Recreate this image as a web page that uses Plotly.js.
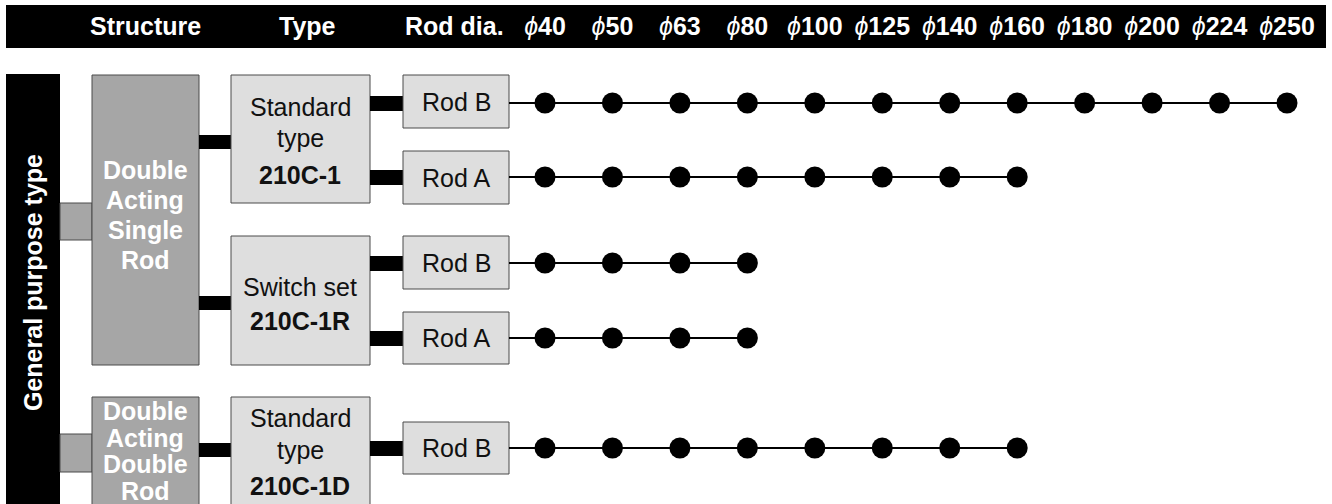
<!DOCTYPE html>
<html>
<head>
<meta charset="utf-8">
<script src="https://cdn.plot.ly/plotly-3.0.1.min.js"></script>
<style>html,body{margin:0;padding:0;background:#fff;}#chart{width:1332px;height:504px;}</style>
</head>
<body>
<div id="chart"></div>
<script>
// ---------------- data ----------------
const diameters = [40, 50, 63, 80, 100, 125, 140, 160, 180, 200, 224, 250];
const diameterLabels = diameters.map(d => '<i>ϕ</i><b>' + d + '</b>');
const headerLabels = ['Structure', 'Type', 'Rod dia.'];
const groupLabel = 'General purpose type';
const structureLabels = [['Double', 'Acting', 'Single', 'Rod'], ['Double', 'Acting', 'Double', 'Rod']];
const typeNames = [['Standard', 'type'], ['Switch set'], ['Standard', 'type']];
const typeCodes = ['210C-1', '210C-1R', '210C-1D'];
const rodLabels = ['Rod B', 'Rod A', 'Rod B', 'Rod A', 'Rod B'];
const row210C1B  = [40, 50, 63, 80, 100, 125, 140, 160, 180, 200, 224, 250];
const row210C1A  = [40, 50, 63, 80, 100, 125, 140, 160];
const row210C1RB = [40, 50, 63, 80];
const row210C1RA = [40, 50, 63, 80];
const row210C1DB = [40, 50, 63, 80, 100, 125, 140, 160];
const rows = [row210C1B, row210C1A, row210C1RB, row210C1RA, row210C1DB];

// ---------------- layout geometry (pixels) ----------------
const W = 1332, H = 504;
const FONT = 'Liberation Sans, Arial, sans-serif';
const FS = 25;
const rowY = [103, 177, 263, 338, 448];
const rodBox = [[75,128],[151,204],[236,289],[312,364],[422,474]];
const typeBox = [[75,203],[236,365],[397,512]];
const structBox = [[75,365],[397,512]];
const typeOfRow = [0, 0, 1, 1, 2];
const typeConnY = [142, 303, 450];
const graySqY = [[203,240],[434,472]];

const shapes = [];
function rect(x0, y0, x1, y1, fill, line, lw) {
  shapes.push({type:'rect', xref:'x', yref:'y', x0, y0, x1, y1, layer:'below',
    fillcolor: fill, line:{color: line || fill, width: lw === undefined ? 0 : lw}});
}
// header bar
rect(6, 5, 1326, 48, '#000000');
// vertical group bar
rect(6, 74, 60, 512, '#000000');
// gray connectors to structures
graySqY.forEach(([a,b]) => rect(60, a, 92, b, '#a6a6a6', '#4a4a4a', 1));
// structure boxes
structBox.forEach(([a,b]) => rect(92, a, 199, b, '#a6a6a6', '#4a4a4a', 1));
// connectors structure -> type
typeConnY.forEach(c => rect(199, c-7, 231, c+7, '#000000'));
// type boxes
typeBox.forEach(([a,b]) => rect(231, a, 370, b, '#dedede', '#4a4a4a', 1));
// connectors type -> rod
rowY.forEach(c => rect(370, c-7, 403, c+8, '#000000'));
// rod boxes
rodBox.forEach(([a,b]) => rect(403, a, 509, b, '#dedede', '#4a4a4a', 1));
// stub lines from rod box to first dot
rowY.forEach(c => shapes.push({type:'line', xref:'x', yref:'y', x0:509, x1:560, y0:c, y1:c,
  layer:'below', line:{color:'#000', width:2}}));

const annotations = [];
function ann(text, x, y, opts) {
  annotations.push(Object.assign({text, x, y, xref:'x', yref:'y', showarrow:false,
    xanchor:'center', yanchor:'middle', font:{family:FONT, size:FS, color:'#111'}}, opts || {}));
}
// header texts
ann('<b>' + headerLabels[0] + '</b>', 145, 26, {font:{family:FONT, size:FS, color:'#fff'}});
ann('<b>' + headerLabels[1] + '</b>', 307, 26, {font:{family:FONT, size:FS, color:'#fff'}});
ann('<b>' + headerLabels[2] + '</b>', 403, 26, {xanchor:'left', font:{family:FONT, size:FS, color:'#fff'}});
// group label
ann('<b>' + groupLabel + '</b>', 33, 283, {textangle:-90, font:{family:FONT, size:FS, color:'#fff'}});
// structure texts
const structLineY = [[170, 30], [411, 26.5]];
structureLabels.forEach((lines, i) => lines.forEach((t, j) =>
  ann('<b>' + t + '</b>', 145, structLineY[i][0] + j * structLineY[i][1], {font:{family:FONT, size:FS, color:'#fff'}})));
// type texts
const typeLineY = [[107, 138, 175], [287, 321], [418, 450, 486]];
typeNames.forEach((lines, i) => {
  lines.forEach((t, j) => ann(t, 300, typeLineY[i][j]));
  ann('<b>' + typeCodes[i] + '</b>', 300, typeLineY[i][lines.length]);
});
// rod texts
rodLabels.forEach((t, i) => ann(t, 456, (rodBox[i][0] + rodBox[i][1]) / 2));

// ---------------- traces ----------------
const traces = rows.map((r, i) => ({
  type:'scatter', mode:'lines+markers', xaxis:'x2', yaxis:'y',
  x: r.map(String), y: r.map(() => rowY[i]),
  name: typeCodes[typeOfRow[i]] + ' ' + rodLabels[i],
  line:{color:'#000', width:2}, marker:{color:'#000', size:21},
  hoverinfo:'skip', showlegend:false, cliponaxis:false
}));

const step = (1287 - 545) / 11;
const d0 = (545 - step / 2) / W, d1 = (1287 + step / 2) / W;

const layout = {
  width: W, height: H, margin:{l:0, r:0, t:0, b:0}, paper_bgcolor:'#fff', plot_bgcolor:'rgba(0,0,0,0)',
  showlegend:false,
  xaxis:{range:[0, W], visible:false, fixedrange:true},
  yaxis:{range:[H, 0], visible:false, fixedrange:true},
  xaxis2:{type:'category', categoryorder:'array', categoryarray: diameters.map(String),
    range:[-0.5, 11.5], domain:[d0, d1], anchor:'free', position: 1 - 40/H, side:'top',
    tickmode:'array', tickvals: diameters.map(String), ticktext: diameterLabels,
    ticks:'', showline:false, showgrid:false, zeroline:false,
    tickfont:{family:FONT, size:FS, color:'#fff'}, fixedrange:true},
  shapes, annotations
};
Plotly.newPlot('chart', traces, layout, {displayModeBar:false, staticPlot:true});
</script>
</body>
</html>
